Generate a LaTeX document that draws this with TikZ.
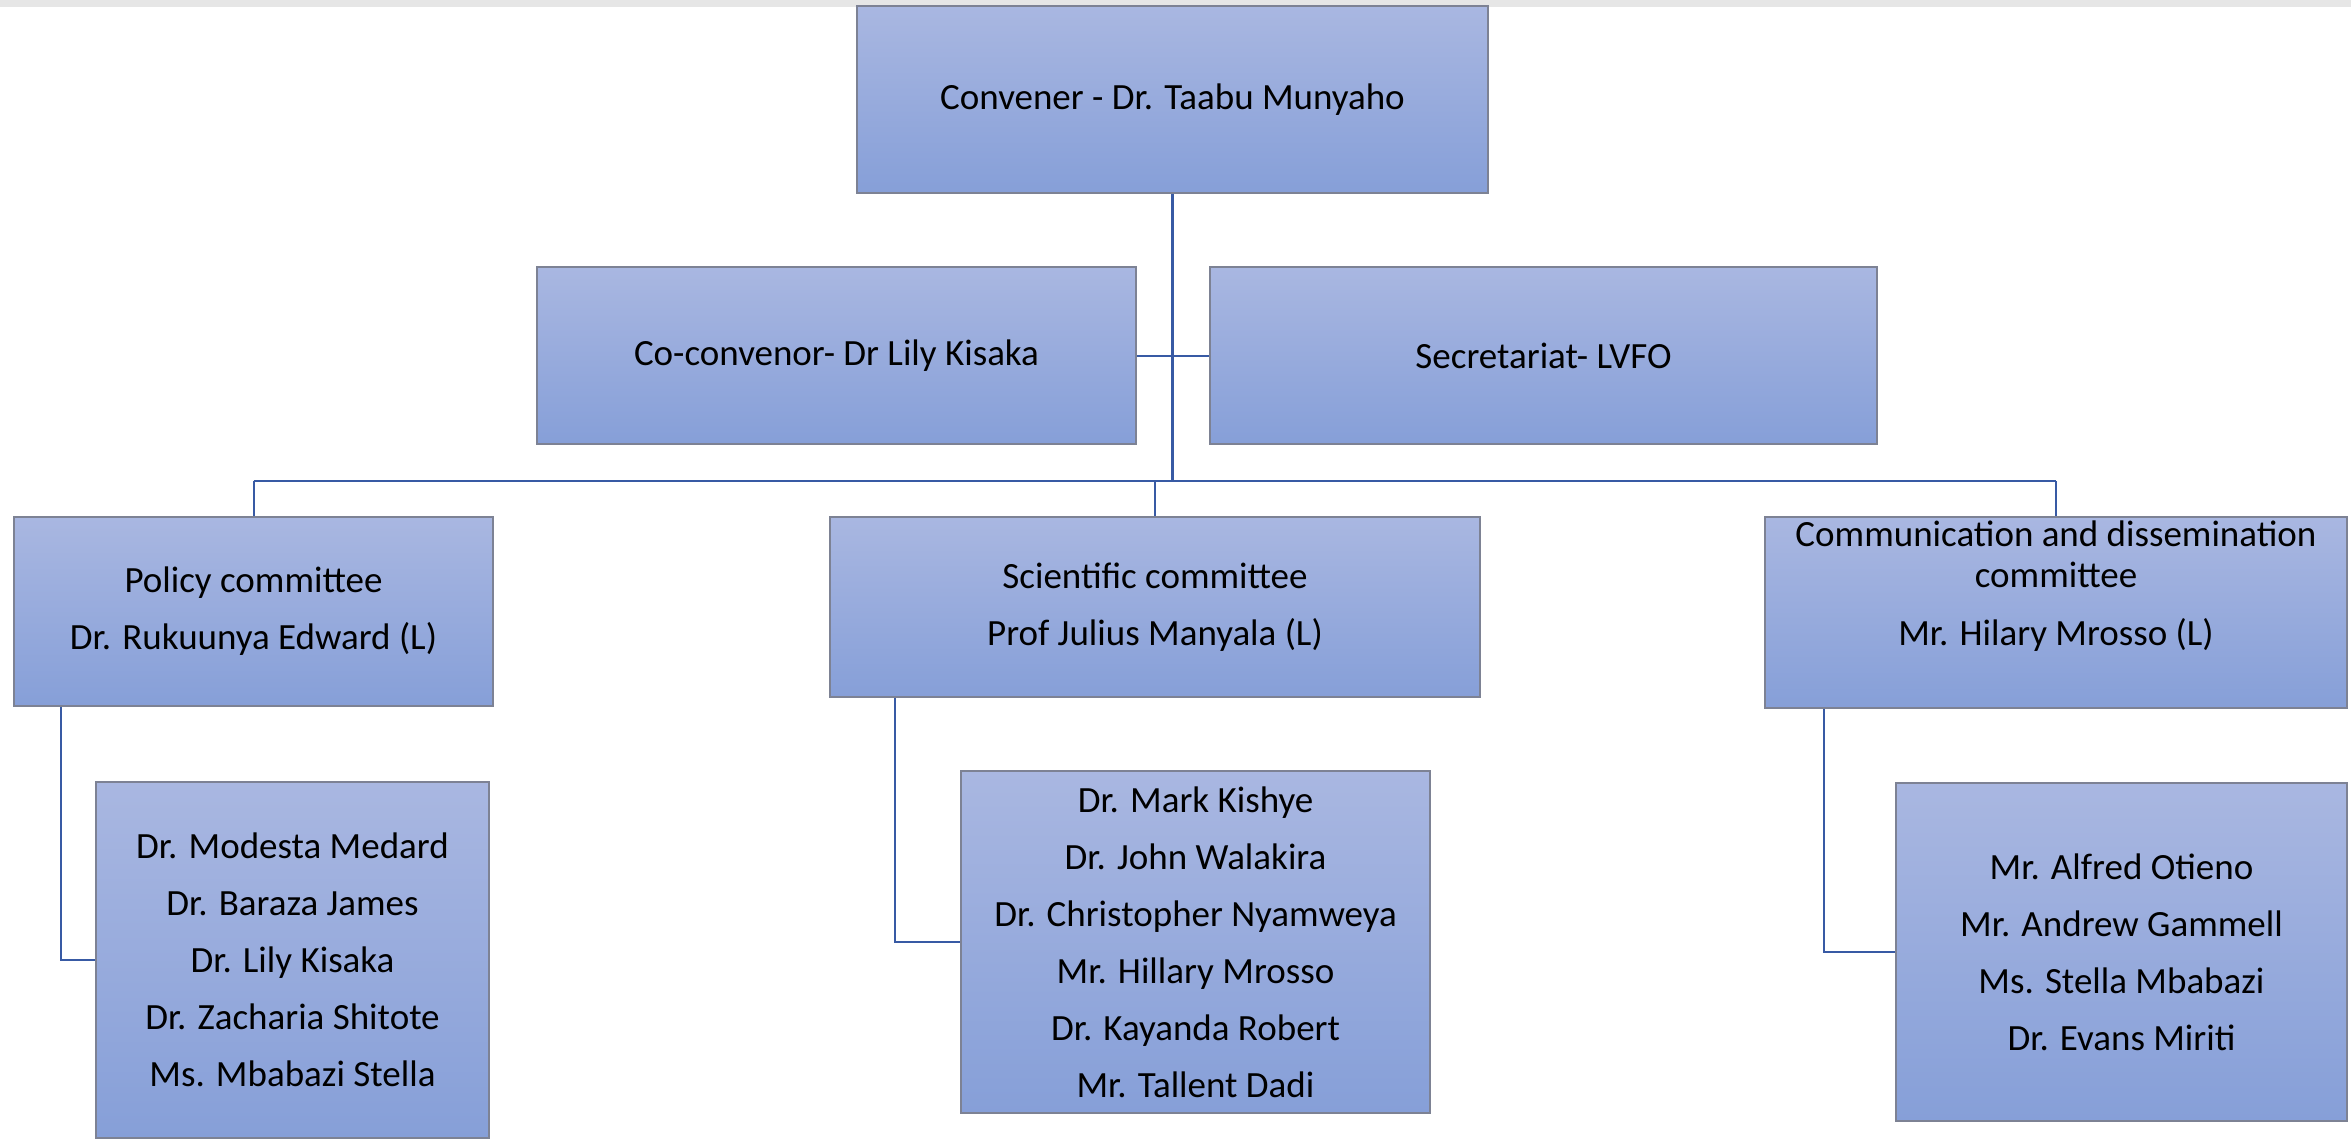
\documentclass[tikz,border=0pt]{standalone}
\usepackage{fontspec}
\setmainfont{Carlito}
\usetikzlibrary{calc}
\definecolor{boxtop}{RGB}{169,183,225}
\definecolor{boxbot}{RGB}{134,159,216}
\definecolor{boxedge}{RGB}{125,130,148}
\definecolor{linkblue}{RGB}{56,90,164}
\definecolor{band}{RGB}{230,230,230}
\tikzset{
  orgbox/.style={rectangle, draw=boxedge, line width=0.8pt, top color=boxtop, bottom color=boxbot,
    inner sep=0pt, align=center, font=\fontsize{18.5}{28.5}\selectfont},
  link/.style={draw=linkblue, line width=1pt},
  trunk/.style={draw=linkblue, line width=1.5pt},
  txt/.style={inner sep=0pt, align=center, font=\fontsize{18.5}{20.5}\selectfont}
}
\begin{document}
\begin{tikzpicture}[x=0.5pt,y=-0.5pt]
\useasboundingbox (0,0) rectangle (2351,1140);
\fill[band] (0,0) rectangle (2351,7);

% top level
\node[orgbox, minimum width=315.5pt, minimum height=93.5pt] (conv) at (1172.5,99.5) {Convener - Dr. Taabu Munyaho};
\node[orgbox, minimum width=299.5pt, minimum height=88.5pt] (co) at (836.5,355.5) {Co-convenor- Dr Lily Kisaka};
\node[orgbox, minimum width=333.5pt, minimum height=88.5pt] (sec) at (1543.5,355.5) {Secretariat- LVFO};

% committees
\node[orgbox, minimum width=239.5pt, minimum height=94.5pt] (pol) at (253.5,611.5) {Policy committee\\Dr. Rukuunya Edward (L)};
\node[orgbox, minimum width=325pt, minimum height=90pt] (sci) at (1155,607) {Scientific committee\\Prof Julius Manyala (L)};
\node[orgbox, minimum width=291pt, minimum height=95.5pt] (com) at (2056,612.5) {};
\node[txt] (comtext) at (2056,586) {Communication and dissemination\\committee\\[8.5pt]Mr. Hilary Mrosso (L)};

% members
\node[orgbox, minimum width=196.5pt, minimum height=178pt] (polm) at (292.5,960) {Dr. Modesta Medard\\Dr. Baraza James\\Dr. Lily Kisaka\\Dr. Zacharia Shitote\\Ms. Mbabazi Stella};
\node[orgbox, minimum width=234.5pt, minimum height=171pt] (scim) at (1195.5,942) {Dr. Mark Kishye\\Dr. John Walakira\\Dr. Christopher Nyamweya\\Mr. Hillary Mrosso\\Dr. Kayanda Robert\\Mr. Tallent Dadi};
\node[orgbox, minimum width=225.5pt, minimum height=169pt] (comm) at (2121.5,952) {Mr. Alfred Otieno\\Mr. Andrew Gammell\\Ms. Stella Mbabazi\\Dr. Evans Miriti};

% connectors
\coordinate (bus) at (0,481);
\coordinate (polx) at (61,0);
\coordinate (scix) at (895,0);
\coordinate (comx) at (1824,0);

\draw[link] (co.east) -- (sec.west);
\draw[trunk] (conv.south) -- (conv.south |- bus);
\draw[link] (pol.north |- bus) -- (com.north |- bus);
\draw[link] (pol.north |- bus) -- (pol.north);
\draw[link] (sci.north |- bus) -- (sci.north);
\draw[link] (com.north |- bus) -- (com.north);

\draw[link] (pol.south -| polx) |- (polm.west);
\draw[link] (sci.south -| scix) |- (scim.west);
\draw[link] (com.south -| comx) |- (comm.west);
\end{tikzpicture}
\end{document}
